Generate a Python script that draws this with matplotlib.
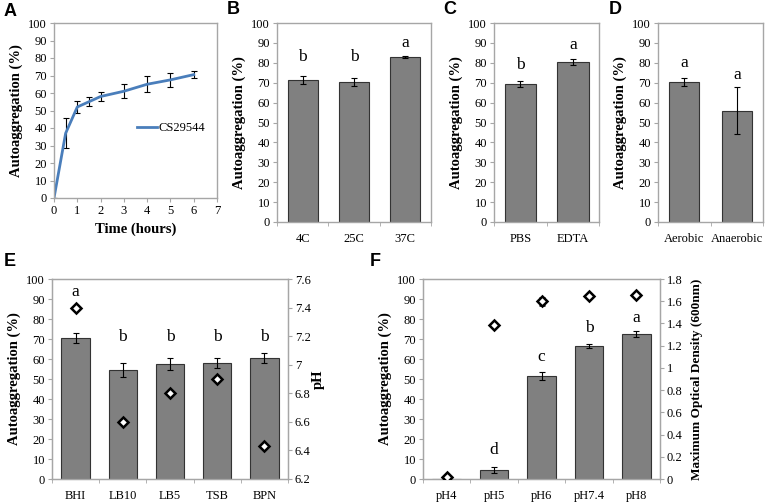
import numpy as np
import matplotlib
matplotlib.use('Agg')
import matplotlib.pyplot as plt
from matplotlib.lines import Line2D

plt.rcParams['font.family'] = 'Liberation Serif'
plt.rcParams['font.size'] = 9

# --- Дані ---
# A: кінетика
time_h = [0, 0.5, 1, 1.5, 2, 3, 4, 5, 6]
kin_mean = [0, 37, 52, 55, 58, 61, 65, 67.5, 70.5]
kin_err = [0, 8.5, 3.5, 2.5, 2.5, 4, 4.5, 4, 2]

# B: температура
temp_cats = ['4C', '25C', '37C']
temp_mean = [71.5, 70.5, 83]
temp_err = [2, 2, 0.5]
temp_letters = ['b', 'b', 'a']
temp_letter_y = [83, 83, 90]

# C: буфер
buf_cats = ['PBS', 'EDTA']
buf_mean = [69.5, 80.5]
buf_err = [1.5, 1.5]
buf_letters = ['b', 'a']
buf_letter_y = [79, 89]

# D: кисень
oxy_cats = ['Aerobic', 'Anaerobic']
oxy_mean = [70.5, 56]
oxy_err = [2, 12]
oxy_letters = ['a', 'a']
oxy_letter_y = [80, 74]

# E: середовища
med_cats = ['BHI', 'LB10', 'LB5', 'TSB', 'BPN']
med_mean = [70.5, 54.5, 57.5, 58, 60.5]
med_err = [2.5, 3.5, 3, 2.5, 2.5]
med_ph = [7.4, 6.6, 6.8, 6.9, 6.43]
med_letters = ['a', 'b', 'b', 'b', 'b']
med_letter_y = [93.5, 71, 71, 71, 71]

# F: pH
ph_cats = ['pH4', 'pH5', 'pH6', 'pH7.4', 'pH8']
ph_mean = [0, 4.5, 51.5, 66.5, 72.5]
ph_err = [0, 1.5, 2, 1, 1.5]
ph_od = [0.02, 1.39, 1.6, 1.65, 1.655]
ph_od_err = [0, 0, 0.03, 0, 0]
ph_letters = ['', 'd', 'c', 'b', 'a']
ph_letter_y = [0, 14.5, 61, 75.5, 80.5]

W, H = 768, 503
fig = plt.figure(figsize=(W / 100, H / 100), dpi=100)

def add_ax(l, r, t, b):
    return fig.add_axes([l / W, (H - b) / H, (r - l) / W, (b - t) / H])

SPINE = '#a6a6a6'
BAR = '#808080'
LINE = '#4a7ebb'
YLAB = 'Autoaggregation (%)'
LAB_FS = 10.5

def style(ax):
    for s in ax.spines.values():
        s.set_color(SPINE)
        s.set_linewidth(1)
    ax.tick_params(direction='out', length=3, color=SPINE, labelsize=9, pad=2)
    ax.set_ylim(0, 100)
    ax.set_yticks(range(0, 101, 10))

def bars(ax, cats, mean, err, letters, letter_y, width=0.6):
    x = np.arange(len(cats))
    ax.bar(x, mean, width=width, color=BAR, edgecolor='#333333', linewidth=0.8, zorder=2)
    ax.errorbar(x, mean, yerr=err, fmt='none', ecolor='black', elinewidth=0.8, capsize=2.5, capthick=0.8, zorder=3)
    for xi, lt, ly in zip(x, letters, letter_y):
        if lt:
            ax.text(xi, ly, lt, ha='center', va='center', fontsize=12.5)
    ax.set_xlim(-0.5, len(cats) - 0.5)
    ax.set_xticks(x)
    ax.set_xticklabels(cats)
    ax.tick_params(axis='x', which='major', length=0, pad=8)
    ax.set_xticks(np.arange(len(cats) + 1) - 0.5, minor=True)
    ax.tick_params(axis='x', which='minor', length=3, color=SPINE, direction='out')
    ax.set_ylabel(YLAB, fontweight='bold', fontsize=LAB_FS, labelpad=4)

def style_right(ax2):
    for s in ax2.spines.values():
        s.set_color(SPINE)
    ax2.tick_params(direction='out', length=3, color=SPINE, labelsize=9, pad=2)

# --- A ---
axA = add_ax(54, 217, 23, 198)
style(axA)
axA.errorbar(time_h, kin_mean, yerr=kin_err, color=LINE, lw=2, ecolor='black',
             elinewidth=0.8, capsize=2.5, capthick=0.8)
axA.set_xlim(0, 7)
axA.set_xticks(range(0, 8))
axA.set_xlabel('Time (hours)', fontweight='bold', fontsize=LAB_FS, labelpad=4)
axA.set_ylabel(YLAB, fontweight='bold', fontsize=LAB_FS, labelpad=4)
axA.legend([Line2D([], [], color=LINE, lw=2)], ['CS29544'], loc='center left',
           bbox_to_anchor=(0.44, 0.4), frameon=False, fontsize=9,
           handlelength=1.6, handletextpad=0.1)

# --- B ---
axB = add_ax(277, 431, 23, 222)
style(axB)
bars(axB, temp_cats, temp_mean, temp_err, temp_letters, temp_letter_y, width=0.58)

# --- C ---
axC = add_ax(494, 599, 23, 222)
style(axC)
bars(axC, buf_cats, buf_mean, buf_err, buf_letters, buf_letter_y)

# --- D ---
axD = add_ax(658, 763, 23, 222)
style(axD)
bars(axD, oxy_cats, oxy_mean, oxy_err, oxy_letters, oxy_letter_y, width=0.58)

# --- E ---
axE = add_ax(52, 288, 279, 479)
style(axE)
bars(axE, med_cats, med_mean, med_err, med_letters, med_letter_y, width=0.6)
axE2 = axE.twinx()
axE2.plot(np.arange(len(med_cats)), med_ph, ls='none', marker='D', ms=5.5,
          mfc='white', mec='black', mew=1.8, zorder=4)
axE2.set_ylim(6.2, 7.6)
axE2.set_yticks(np.arange(6.2, 7.61, 0.2))
axE2.set_yticklabels(['6.2', '6.4', '6.6', '6.8', '7', '7.2', '7.4', '7.6'])
style_right(axE2)
axE2.set_ylabel('pH', fontweight='bold', fontsize=LAB_FS, labelpad=1)

# --- F ---
axF = add_ax(423, 660, 279, 479)
style(axF)
bars(axF, ph_cats, ph_mean, ph_err, ph_letters, ph_letter_y, width=0.6)
axF2 = axF.twinx()
axF2.errorbar(np.arange(len(ph_cats)), ph_od, yerr=ph_od_err, ls='none', marker='D', ms=5.5,
              mfc='white', mec='black', mew=1.8, ecolor='black', elinewidth=0.8, capsize=2, zorder=4)
axF2.set_ylim(0, 1.8)
axF2.set_yticks(np.arange(0, 1.81, 0.2))
axF2.set_yticklabels(['0', '0.2', '0.4', '0.6', '0.8', '1', '1.2', '1.4', '1.6', '1.8'])
style_right(axF2)
axF2.set_ylabel('Maximum Optical Density (600nm)', fontweight='bold', fontsize=9.5, labelpad=6)

# --- Літери панелей ---
for lt, px, py in [('A', 10, 12), ('B', 233, 10), ('C', 450, 10), ('D', 615, 10),
                   ('E', 10, 262), ('F', 375, 262)]:
    fig.text(px / W, 1 - py / H, lt, fontsize=13, fontweight='bold',
             family='Liberation Sans', ha='center', va='center')

fig.savefig('out.png', dpi=100)
